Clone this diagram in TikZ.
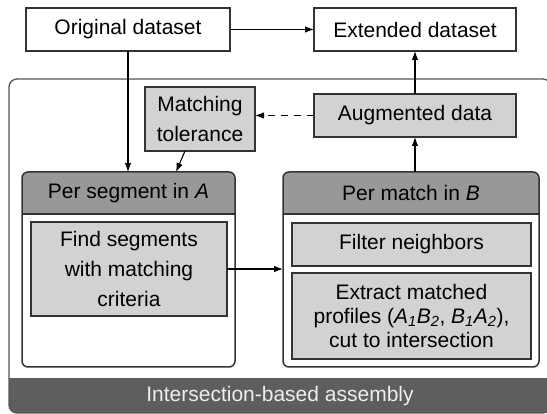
\documentclass[tikz,border=0pt]{standalone}
\usepackage{fontspec}
\setmainfont{Liberation Sans}
\usetikzlibrary{arrows.meta,calc}
\definecolor{boxgray}{HTML}{D2D2D2}
\definecolor{hdrgray}{HTML}{989898}
\definecolor{bargray}{HTML}{5E5E5E}
\definecolor{edge}{HTML}{333333}
\definecolor{framecol}{HTML}{555555}
\definecolor{bartext}{HTML}{EEEEEE}

\begin{document}
\begin{tikzpicture}[x=1pt,y=-1pt,
  every node/.style={inner sep=0pt, outer sep=0pt, font=\fontsize{21}{30}\selectfont},
  plainbox/.style={draw=edge, line width=1.2pt, fill=white},
  graybox/.style={draw=edge, line width=1.2pt, fill=boxgray, align=center},
  groupline/.style={draw=edge, line width=1.5pt, rounded corners=6pt},
  arr/.style={line width=1.1pt, -{Latex[length=9pt,width=6.5pt]}},
]
\clip (0,0) rectangle (547,414);

% outer assembly frame with its bottom caption bar
\begin{scope}
  \clip[rounded corners=8pt] (9,79) rectangle (551,413);
  \fill[white] (9,79) rectangle (551,413);
  \fill[bargray] (9,378) rectangle (551,413);
\end{scope}
\draw[framecol, line width=1.3pt, rounded corners=8pt] (9,79) rectangle (551,413);
\node[text=bartext] (asm) at (280,396) {Intersection-based assembly};

% top-level datasets
\node[plainbox, minimum width=204pt, minimum height=43pt] (orig) at (128,29.5) {Original dataset};
\node[plainbox, minimum width=202pt, minimum height=43pt] (ext) at (415,29.5) {Extended dataset};

% tolerance and augmented data
\node[graybox, minimum width=110pt, minimum height=64pt] (tol) at (200,119) {Matching\\tolerance};
\node[graybox, minimum width=202pt, minimum height=43pt] (aug) at (415,115.5) {Augmented data};

% group: per segment in A
\node[minimum width=213pt, minimum height=195pt] (segA) at (128.5,269.5) {};
\begin{scope}
  \clip[rounded corners=6pt] (segA.north west) rectangle (segA.south east);
  \fill[white] (segA.north west) rectangle (segA.south east);
  \fill[hdrgray] (segA.north west) rectangle ($(segA.north east)+(0,42)$);
\end{scope}
\draw[edge, line width=1.2pt] ($(segA.north west)+(0,42)$) -- ($(segA.north east)+(0,42)$);
\draw[groupline] (segA.north west) rectangle (segA.south east);
\node (hdrA) at ($(segA.north)+(0,21)$) {Per segment in \textit{A}};
\node[graybox, minimum width=196pt, minimum height=94pt] (find) at (129,269)
  {Find segments\\with matching\\criteria};

% group: per match in B
\node[minimum width=256pt, minimum height=195pt] (matchB) at (411,269.5) {};
\begin{scope}
  \clip[rounded corners=6pt] (matchB.north west) rectangle (matchB.south east);
  \fill[white] (matchB.north west) rectangle (matchB.south east);
  \fill[hdrgray] (matchB.north west) rectangle ($(matchB.north east)+(0,42)$);
\end{scope}
\draw[edge, line width=1.2pt] ($(matchB.north west)+(0,42)$) -- ($(matchB.north east)+(0,42)$);
\draw[groupline] (matchB.north west) rectangle (matchB.south east);
\node (hdrB) at ($(matchB.north)+(0,21)$) {Per match in \textit{B}};
\node[graybox, minimum width=239pt, minimum height=43pt] (filter) at (411.5,244.5) {Filter neighbors};
\node[graybox, minimum width=239pt, minimum height=86pt, font=\fontsize{21}{24}\selectfont] (extract) at (411.5,316)
  {Extract matched\\profiles (\textit{A\textsubscript{1}B\textsubscript{2}}, \textit{B\textsubscript{1}A\textsubscript{2}}),\\cut to intersection};

% connectors
\draw[arr] (orig.east) -- (ext.west);
\draw[arr] (orig.south) -- (orig.south |- segA.north);
\draw[arr] ($(tol.south west)+(40,0)$) -- ($(segA.north west)+(154,0)$);
\draw[arr, dash pattern=on 7pt off 6pt] (aug.west) -- (aug.west -| tol.east);
\draw[arr] (aug.north) -- (ext.south);
\draw[arr] (aug.south |- matchB.north) -- (aug.south);
\draw[arr] (find.east) -- (find.east -| matchB.west);
\end{tikzpicture}
\end{document}
